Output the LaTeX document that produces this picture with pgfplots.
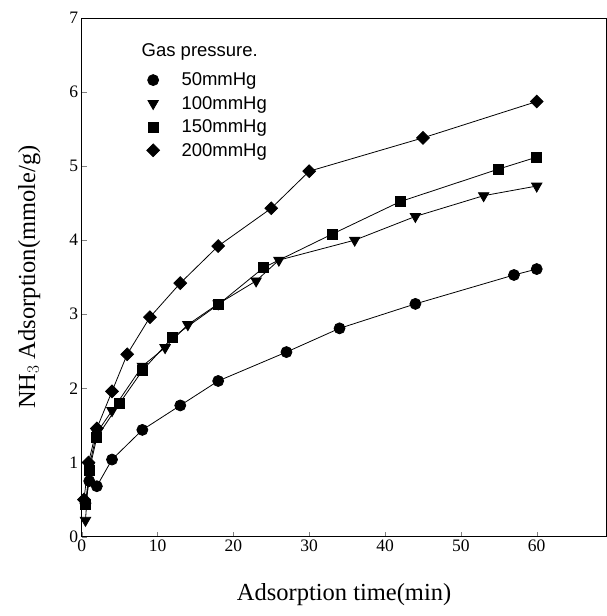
\documentclass[border=0pt]{standalone}
\usepackage{pgfplots}
\pgfplotsset{compat=1.18}
\usepackage{fontspec}
\setmainfont{Liberation Serif}
\newfontfamily\arial{Liberation Sans}
\begin{document}
\begin{tikzpicture}
\begin{axis}[
  name=ax,
  scale only axis,
  width=525pt, height=519pt,
  xmin=0, xmax=69.2, ymin=0, ymax=7,
  xtick={0,10,20,30,40,50,60},
  ytick={0,1,2,3,4,5,6,7},
  tick align=inside,
  xtick pos=bottom, ytick pos=left,
  major tick length=5pt,
  /pgf/number format/assume math mode=true,
  tick label style={font=\fontsize{17.5}{20}\selectfont},
  xlabel={Adsorption time(min)},
  ylabel={NH$_3$ Adsorption(mmole/g)},
  label style={font=\fontsize{24.5}{28}\selectfont},
  xlabel style={at={(axis description cs:0.5,-0.111)}, anchor=center},
  ylabel style={at={(axis description cs:-0.100,0.5)}, anchor=center, rotate=0},
  clip=false,
  legend style={at={(rel axis cs:0.118,0.900)}, anchor=north west, draw=none, fill=none,
    font=\arial\fontsize{18.5}{20}\selectfont, row sep=7pt,
    nodes={inner sep=1pt}},
  legend cell align=left,
  every axis plot/.append style={black, line width=0.8pt},
]
\addplot[mark=*, mark size=5.5pt, forget plot] coordinates {
(0.5,0.45) (1,0.75) (2,0.68) (4,1.04) (8,1.44) (13,1.77) (18,2.10) (27,2.49) (34,2.81) (44,3.14) (57,3.53) (60,3.61)};
\addplot[mark=triangle*, mark size=6pt, mark options={rotate=180}, forget plot] coordinates {
(0.5,0.22) (1,0.95) (2,1.40) (4,1.70) (8,2.30) (11,2.55) (14,2.86) (18,3.14) (23,3.45) (26,3.73) (36,4.00) (44,4.32) (53,4.60) (60,4.73)};
\addplot[mark=square*, mark size=5pt, forget plot] coordinates {
(0.5,0.44) (1,0.89) (2,1.34) (5,1.80) (8,2.24) (12,2.69) (18,3.13) (24,3.63) (33,4.08) (42,4.52) (55,4.96) (60,5.12)};
\addplot[mark=square*, mark size=4.5pt, mark options={rotate=45}, forget plot] coordinates {
(0.3,0.50) (0.9,1.00) (2,1.46) (4,1.96) (6,2.46) (9,2.96) (13,3.42) (18,3.92) (25,4.43) (30,4.93) (45,5.38) (60,5.87)};
\addlegendimage{only marks, mark=*, mark size=5.5pt, black}
\addlegendentry{\hspace{21pt}50mmHg}
\addlegendimage{only marks, mark=triangle*, mark size=6pt, mark options={rotate=180}, black}
\addlegendentry{\hspace{21pt}100mmHg}
\addlegendimage{only marks, mark=square*, mark size=5pt, black}
\addlegendentry{\hspace{21pt}150mmHg}
\addlegendimage{only marks, mark=square*, mark size=4.5pt, mark options={rotate=45}, black}
\addlegendentry{\hspace{21pt}200mmHg}
\node[anchor=west, font=\arial\fontsize{18.5}{20}\selectfont, inner sep=0pt] at (rel axis cs:0.114,0.934) {Gas pressure.};
\end{axis}
\pgfresetboundingbox
\path ([xshift=-81.7pt,yshift=-79.4pt]ax.south west) rectangle ([xshift=0.5pt,yshift=17.8pt]ax.north east);
\end{tikzpicture}
\end{document}
